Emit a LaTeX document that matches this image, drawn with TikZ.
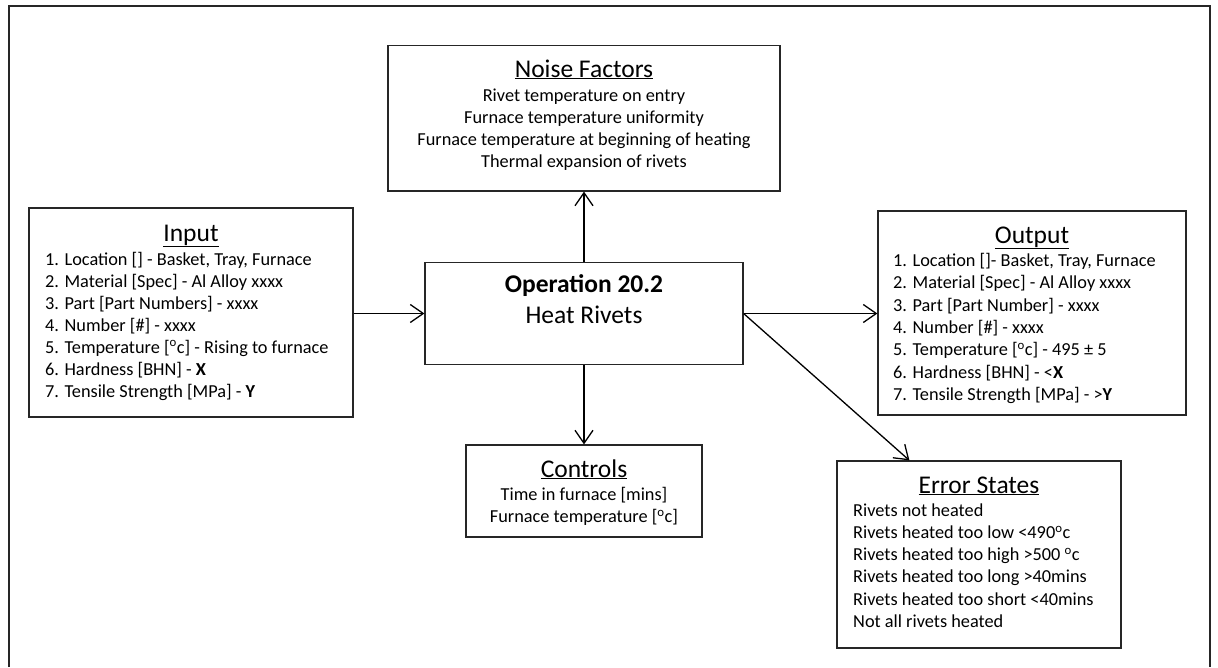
\documentclass[tikz,border=0pt]{standalone}
\usepackage{fontspec}
\setmainfont{Carlito}
\usetikzlibrary{arrows.meta}
\newcommand{\tdeg}{\textsuperscript{o}c}
\begin{document}
\begin{tikzpicture}[x=1pt,y=-1pt,
  box/.style={draw=black!85,line width=1.2pt,rectangle,inner sep=0pt},
  title/.style={anchor=base,inner sep=0pt,font=\fontsize{25.5}{30}\selectfont},
  item/.style={anchor=base west,inner sep=0pt,font=\fontsize{18.3}{22}\selectfont},
  citem/.style={anchor=base,inner sep=0pt,font=\fontsize{18.3}{22}\selectfont},
  arr/.style={line width=1.3pt,-{Straight Barb[length=13pt,width=18pt,line width=1.3pt]}}]
\useasboundingbox (0,0) rectangle (1218,667);
% outer frame, open at the bottom edge of the page
\draw[line width=2pt,black!85] (9,667) -- (9,6) -- (1210,6) -- (1210,667);

% boxes
\node[box,minimum width=392pt,minimum height=145.5pt] (noise) at (584,118.25) {};
\node[box,minimum width=324pt,minimum height=209pt] (input) at (191,312.5) {};
\node[box,minimum width=318pt,minimum height=102pt] (op) at (584,313.5) {};
\node[box,minimum width=308pt,minimum height=204pt] (output) at (1032,313) {};
\node[box,minimum width=236pt,minimum height=92pt] (controls) at (584,491) {};
\node[box,minimum width=284pt,minimum height=187pt] (errors) at (979,554.5) {};

% noise factors
\node[title] (noiseT) at (584,77) {\underline{Noise Factors}};
\foreach \t [count=\k from 0] in {Rivet temperature on entry,Furnace temperature uniformity,Furnace temperature at beginning of heating,Thermal expansion of rivets}
  \node[citem] (noise\k) at (584,101.5+22*\k) {\t};

% input
\node[title] (inputT) at (191,241) {\underline{Input}};
\foreach \t [count=\k from 0] in {1. Location [] - Basket{,} Tray{,} Furnace,2. Material [Spec] - Al Alloy xxxx,3. Part [Part Numbers] - xxxx,4. Number [\#] - xxxx,5. Temperature [\tdeg] - Rising to furnace,6. Hardness [BHN] - \textbf{X},7. Tensile Strength [MPa] - \textbf{Y}}
  \node[item] (input\k) at (45,265+22*\k) {\t};

% operation
\node[anchor=base,inner sep=0pt,font=\fontsize{25.5}{30}\selectfont\bfseries] (opA) at (584,292) {Operation 20.2};
\node[anchor=base,inner sep=0pt,font=\fontsize{25.5}{30}\selectfont] (opB) at (584,323) {Heat Rivets};

% output
\node[title] (outputT) at (1032,243) {\underline{Output}};
\foreach \t [count=\k from 0] in {1. Location []- Basket{,} Tray{,} Furnace,2. Material [Spec] - Al Alloy xxxx,3. Part [Part Number] - xxxx,4. Number [\#] - xxxx,5. Temperature [\tdeg] - 495 ± 5,6. Hardness [BHN] - <\textbf{X},7. Tensile Strength [MPa] - >\textbf{Y}}
  \node[item] (output\k) at (893,266.5+22.3*\k) {\t};

% controls
\node[title] (controlsT) at (584,477) {\underline{Controls}};
\node[citem] (controls0) at (584,500.5) {Time in furnace [mins]};
\node[citem] (controls1) at (584,522.5) {Furnace temperature [\tdeg]};

% error states
\node[title] (errorsT) at (979,493) {\underline{Error States}};
\foreach \t [count=\k from 0] in {Rivets not heated,Rivets heated too low <490\tdeg,Rivets heated too high >500 \tdeg,Rivets heated too long >40mins,Rivets heated too short <40mins,Not all rivets heated}
  \node[item] (errors\k) at (853,516+22.3*\k) {\t};

% connectors
\draw[arr] (input.east |- op.west) -- (op.west);
\draw[arr] (op.east) -- (output.west |- op.east);
\draw[arr] (op.north) -- (noise.south);
\draw[arr] (op.south) -- (controls.north);
\draw[arr] (op.east) -- ([xshift=73pt]errors.north west);
\end{tikzpicture}
\end{document}
